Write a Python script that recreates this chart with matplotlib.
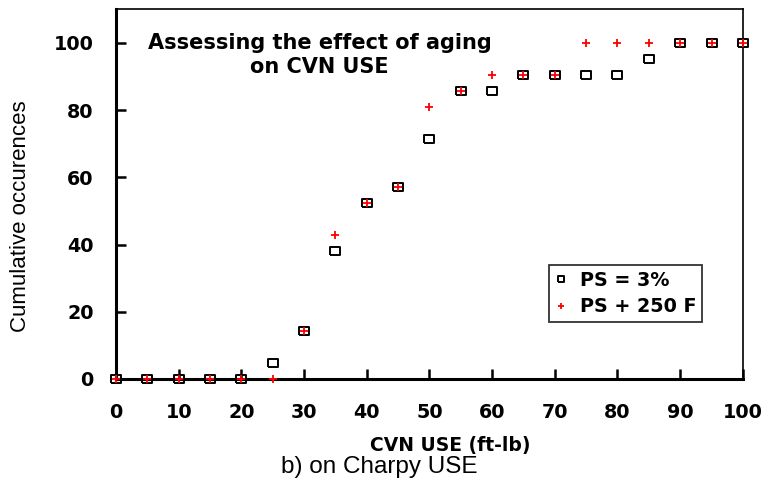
import matplotlib.pyplot as plt

# CVN USE bins (ft-lb) and cumulative occurrences (%)
cvn_use = [0, 5, 10, 15, 20, 25, 30, 35, 40, 45, 50, 55, 60, 65, 70, 75, 80, 85, 90, 95, 100]
ps_3pct = [0, 0, 0, 0, 0, 4.8, 14.3, 38.1, 52.4, 57.1, 71.4, 85.7, 85.7, 90.5, 90.5,
           90.5, 90.5, 95.2, 100, 100, 100]
ps_250f = [0, 0, 0, 0, 0, 0, 14.3, 42.9, 52.4, 57.1, 81.0, 85.7, 90.5, 90.5, 90.5,
           100, 100, 100, 100, 100, 100]

plt.rcParams['font.family'] = ['DejaVu Sans']

fig = plt.figure(figsize=(7.73, 4.84), dpi=100)
ax = fig.add_axes([0.150, 0.217, 0.811, 0.764])

# the original squares come out a bit wider than tall
rect = [(-1.2, -1), (1.2, -1), (1.2, 1), (-1.2, 1), (-1.2, -1)]
ax.plot(cvn_use, ps_3pct, linestyle='none', marker=rect, markersize=6.5,
        markerfacecolor='none', markeredgecolor='black', markeredgewidth=1.4,
        label='PS = 3%', clip_on=False, zorder=2.4)
ax.plot(cvn_use, ps_250f, linestyle='none', marker='+', markersize=6,
        color='red', markeredgewidth=1.3, label='PS + 250 F', clip_on=False, zorder=2.6)

ax.set_xlim(0, 100)
ax.set_ylim(0, 110)
ax.set_xticks(range(0, 101, 10))
ax.set_yticks(range(0, 101, 20))
ax.tick_params(direction='in', length=7.5, width=1.8, labelsize=13.8)
ax.tick_params(axis='x', pad=17)
ax.tick_params(axis='y', pad=16)
for lab in ax.get_xticklabels() + ax.get_yticklabels():
    lab.set_fontweight('bold')

ax.spines['left'].set_linewidth(2.2)
ax.spines['bottom'].set_linewidth(2.2)
ax.spines['top'].set_linewidth(1.2)
ax.spines['right'].set_linewidth(1.2)

ax.set_xlabel('CVN USE (ft-lb)', fontsize=13.5, fontweight='bold')
ax.xaxis.set_label_coords(0.533, -0.155)
ax.set_ylabel('Cumulative occurences', fontsize=16, family='Liberation Sans')
ax.yaxis.set_label_coords(-0.136, 0.44)

ax.text(32.5, 96.4, 'Assessing the effect of aging\non CVN USE', ha='center', va='center',
        fontsize=15, fontweight='bold', linespacing=1.2)

leg = ax.legend(loc='upper left', bbox_to_anchor=(0.6906, 0.308), borderaxespad=0,
                frameon=True, fancybox=False, edgecolor='black',
                prop={'size': 13.8, 'weight': 'bold'},
                handlelength=0.7, handletextpad=0.6, borderpad=0.3, labelspacing=0.4,
                markerscale=0.75)
leg.get_frame().set_linewidth(1.3)

fig.text(0.49, 0.035, 'b) on Charpy USE', ha='center', va='center', fontsize=17.5,
         family='Liberation Sans')

fig.savefig('out.png', dpi=100)
